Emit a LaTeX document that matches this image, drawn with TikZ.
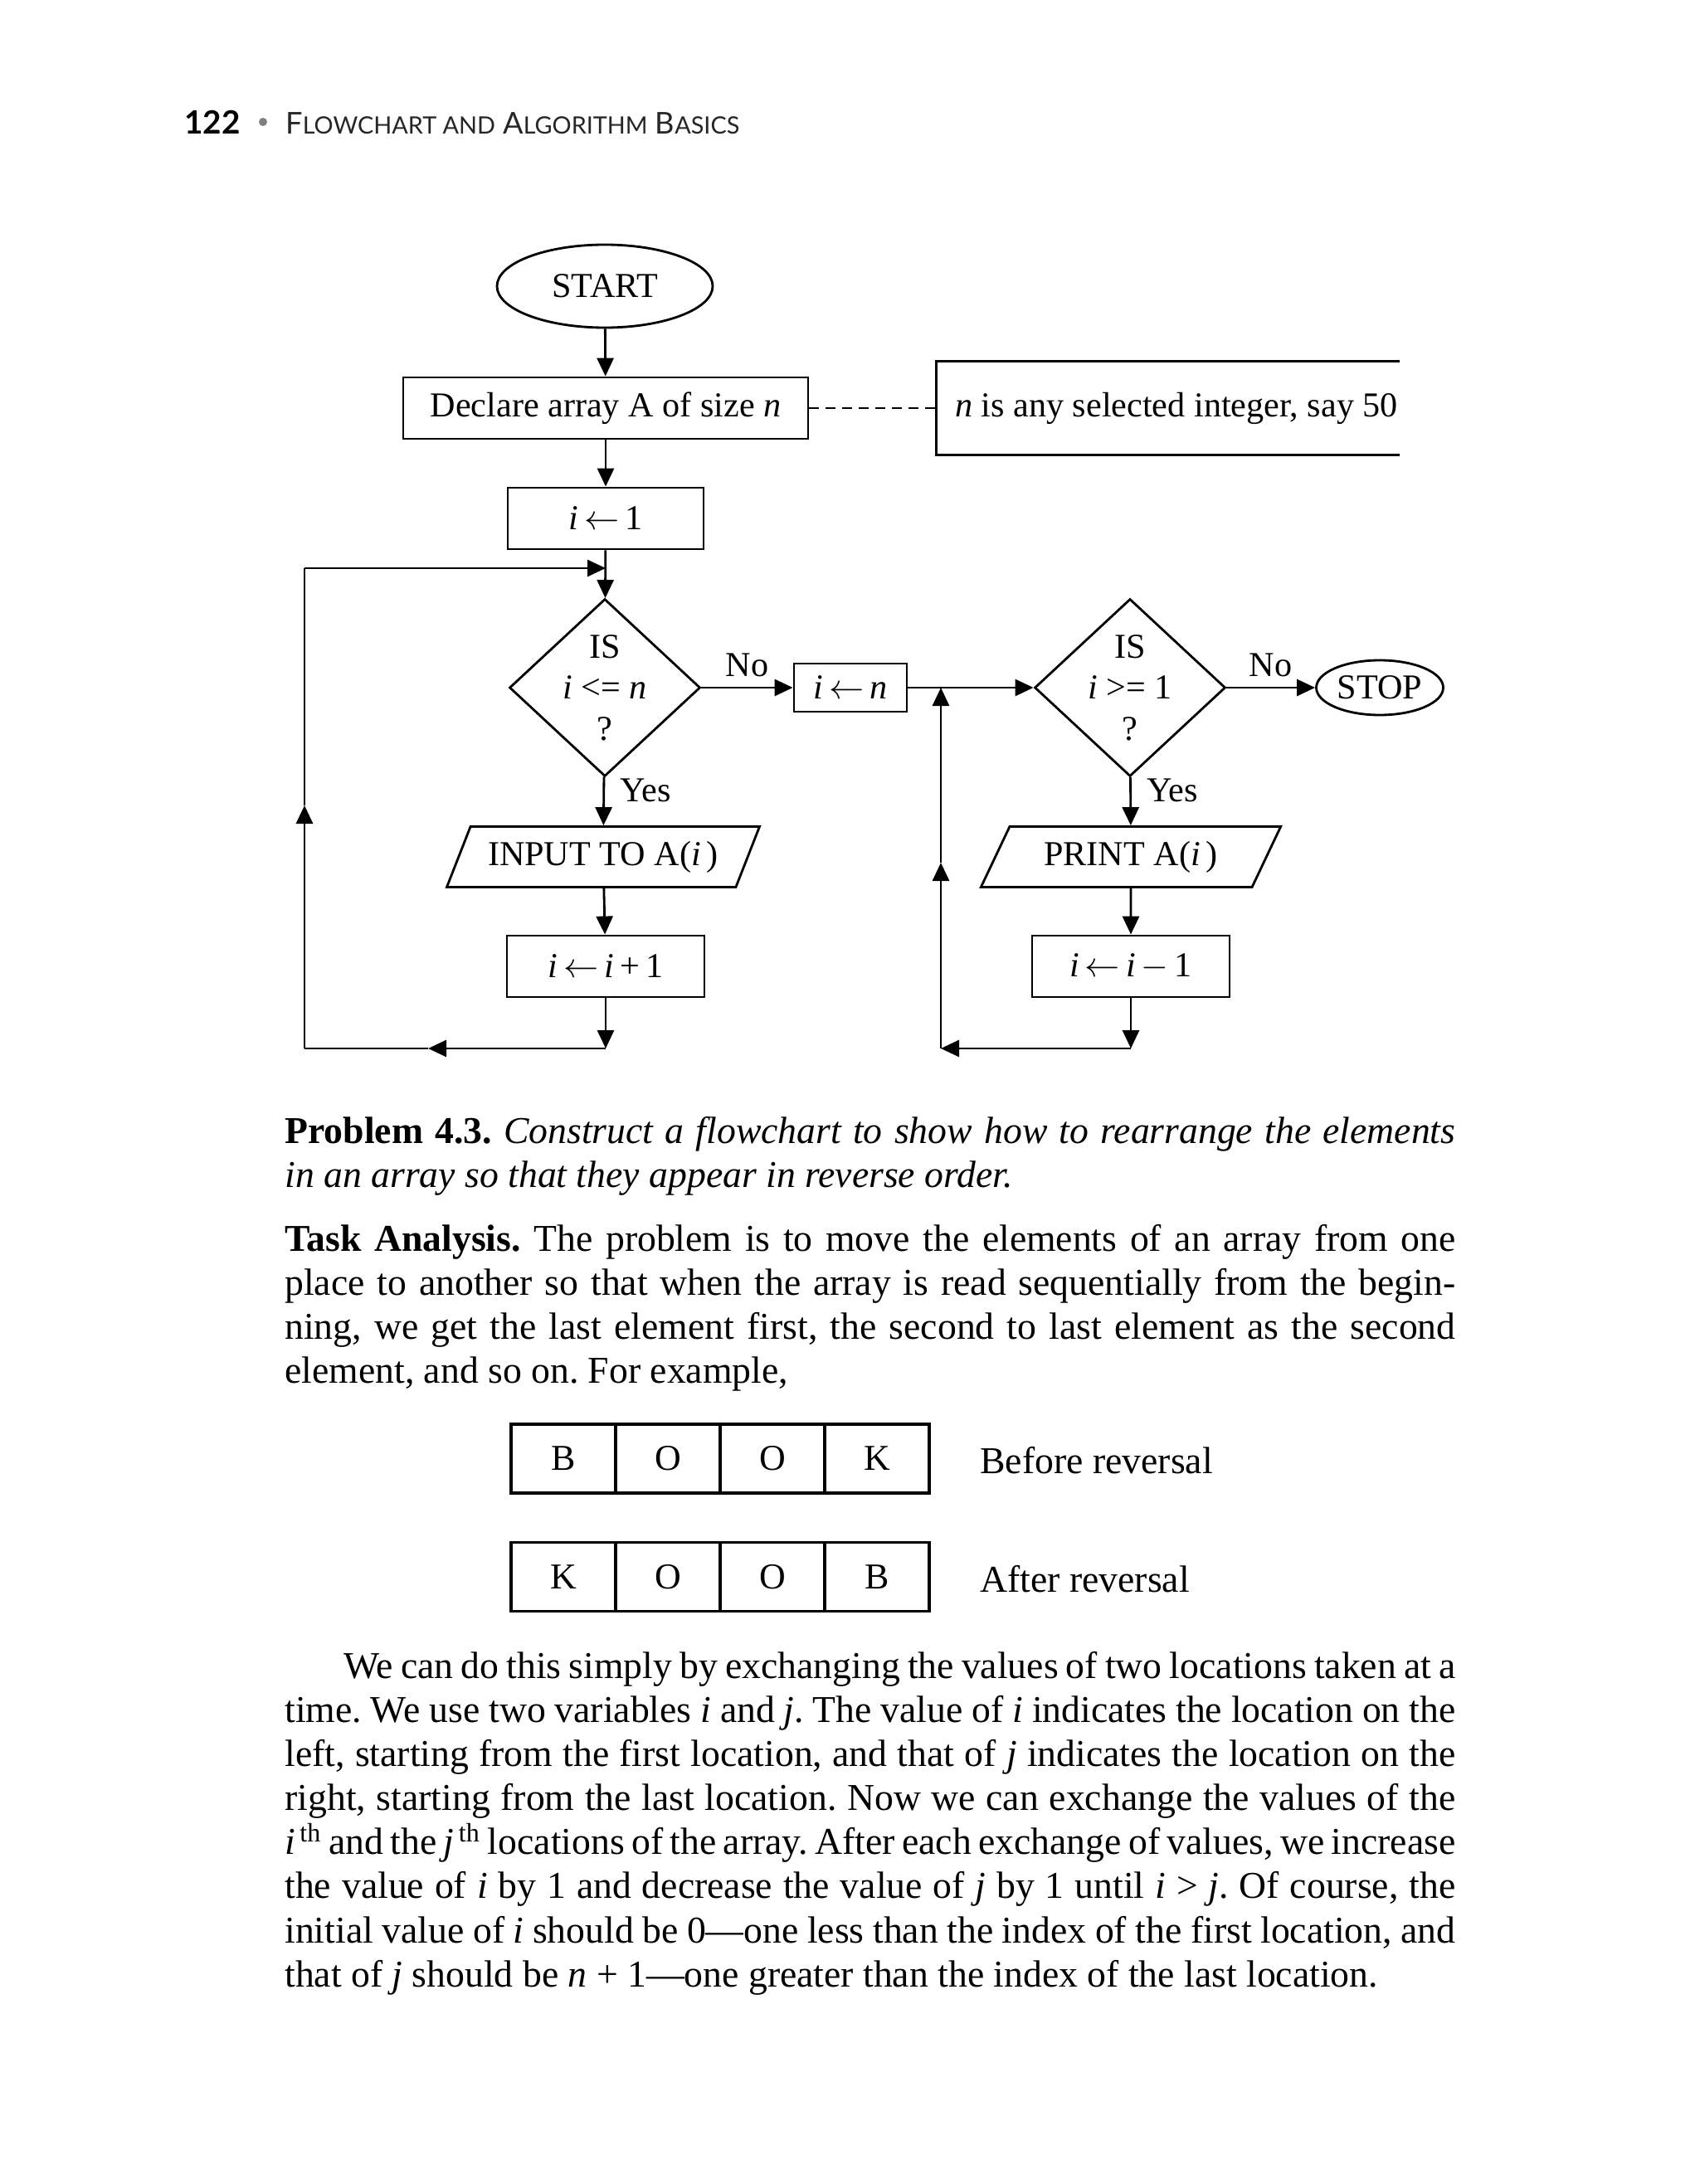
\documentclass[tikz,border=0pt]{standalone}
\usepackage{fontspec}
\setmainfont{Liberation Serif}
\setsansfont{Lato}
\usetikzlibrary{positioning,shapes.geometric,arrows.meta,calc}

\newcommand{\flowfont}{\fontsize{12}{14}\selectfont}
\newcommand{\bodyfont}{\fontsize{13}{15.1}\selectfont\frenchspacing\hyphenpenalty=10000 }

\tikzset{
  flow/.style={-{Triangle[length=2.2mm,width=2mm]}},
  procbox/.style={draw, rectangle, minimum width=2.36cm, minimum height=0.74cm, inner sep=0pt, font=\flowfont},
  termnode/.style={draw, ellipse, inner sep=0pt, font=\flowfont},
  decide/.style={draw, diamond, minimum width=2.30cm, minimum height=2.14cm, inner sep=0pt},
  decidetext/.style={align=center, inner sep=0pt, font=\flowfont, text depth=0pt},
  iobox/.style={draw, trapezium, trapezium left angle=57, trapezium right angle=123, trapezium stretches=true, minimum height=0.73cm, inner sep=0pt, font=\flowfont},
  cell/.style={draw, line width=1.1pt, minimum width=1.26cm, minimum height=0.83cm, inner sep=0pt, font=\fontsize{12.5}{14}\selectfont},
  para/.style={anchor=north west, inner sep=0pt, text width=14.11cm, align=justify, font=\bodyfont}
}

\begin{document}
\begin{tikzpicture}[line width=0.8pt]
\useasboundingbox (0,0) rectangle (20.48,-26.33);

% running head
\node[anchor=base west, inner sep=0pt, font=\sffamily\bfseries\fontsize{11}{13}\selectfont] (pagenum) at (2.21,-1.62) {122};
\node[circle, fill=gray, inner sep=0pt, minimum size=0.1cm] (headdot) at (3.17,-1.47) {};
\node[anchor=base west, inner sep=0pt, font=\sffamily\fontsize{10.3}{12}\selectfont, text=black!85] (runhead) at (3.43,-1.62)
  {F{\fontsize{8.2}{9}\selectfont LOWCHART AND} A{\fontsize{8.2}{9}\selectfont LGORITHM} B{\fontsize{8.2}{9}\selectfont ASICS}};

% first loop
\node[termnode, minimum width=2.6cm, minimum height=1.0cm] (start) at (7.29,-3.45) {START};
\node[procbox, minimum width=4.88cm] (declare) at (7.30,-4.92) {Declare array A of size \textit{n}};
\node[inner sep=0pt, minimum width=5.56cm, minimum height=1.10cm, font=\flowfont] (note) at (14.08,-4.92) {\hspace*{0.2cm}\textit{n} is any selected integer, say 50};
\draw[line width=1pt] (note.north east) -- (note.north west) -- (note.south west) -- (note.south east);
\node[procbox] (init) at (7.30,-6.25) {\textit{i}\,$\leftarrow$\,1};
\coordinate (topjoin) at (7.30,-6.85);
\node[decide] (test1) at (7.29,-8.29) {};
\node[decidetext] (test1txt) at (test1) {IS\\ \textit{i} \textless= \textit{n}\\ ?};
\node[iobox, minimum width=3.78cm] (input) at (7.27,-10.33) {INPUT TO A(\textit{i}\,)};
\node[procbox, minimum width=2.38cm] (incr) at (7.30,-11.65) {\textit{i}\,$\leftarrow$\,\textit{i}\,+\,1};
\coordinate (botL) at (7.30,-12.64);
\coordinate (midL1) at (5.16,-12.64);
\coordinate (cornerBL) at (3.67,-12.64);
\coordinate (midL2) at (3.67,-9.71);
\coordinate (cornerTL) at (3.67,-6.85);

% second loop
\node[procbox, minimum width=1.36cm, minimum height=0.58cm] (setn) at (10.25,-8.29) {\textit{i}\,$\leftarrow$\,\textit{n}};
\node[decide] (test2) at (13.62,-8.29) {};
\node[decidetext] (test2txt) at (test2) {IS\\ \textit{i} \textgreater= 1\\ ?};
\node[termnode, minimum width=1.53cm, minimum height=0.66cm] (stop) at (16.63,-8.29) {STOP};
\node[iobox, minimum width=3.63cm] (print) at (13.63,-10.33) {PRINT A(\textit{i}\,)};
\node[procbox, minimum width=2.38cm] (decr) at (13.63,-11.65) {\textit{i}\,$\leftarrow$\,\textit{i}\,$-$\,1};
\coordinate (botR) at (13.63,-12.64);
\coordinate (cornerBR) at (11.34,-12.64);
\coordinate (midR) at (11.34,-10.40);
\coordinate (joinR) at (11.34,-8.29);

% connectors
\draw[flow] (start) -- (declare);
\draw[dash pattern=on 1.2mm off 0.8mm] (declare) -- (note.west);
\draw[flow] (declare) -- (init);
\draw[flow] (init) -- (test1);
\draw[flow] (test1) -- node[above, font=\flowfont]{No} (setn);
\draw[flow] (test1) -- node[pos=0.28, anchor=west, inner sep=0.18cm, font=\flowfont]{Yes} (input);
\draw[flow] (input) -- (incr);
\draw[flow] (incr) -- (botL);
\draw[flow] (botL) -- (midL1);
\draw (midL1) -- (cornerBL);
\draw[flow] (cornerBL) -- (midL2);
\draw (midL2) -- (cornerTL);
\draw[flow] (cornerTL) -- (topjoin);

\draw[flow] (setn) -- (test2);
\draw[flow] (test2) -- node[above, font=\flowfont]{No} (stop);
\draw[flow] (test2) -- node[pos=0.28, anchor=west, inner sep=0.18cm, font=\flowfont]{Yes} (print);
\draw[flow] (print) -- (decr);
\draw[flow] (decr) -- (botR);
\draw[flow] (botR) -- (cornerBR);
\draw[flow] (cornerBR) -- (midR);
\draw[flow] (midR) -- (joinR);

% text
\node[para] (problem) at (3.42,-13.45)
  {\textbf{Problem 4.3.} \textit{Construct a flowchart to show how to rearrange the elements\linebreak in an array so that they appear in reverse order.}};
\node[para] (analysis) at (3.42,-14.75)
  {\textbf{Task Analysis.} The problem is to move the elements of an array from one\linebreak
   place to another so that when the array is read sequentially from the begin-\linebreak
   ning, we get the last element first, the second to last element as the second\linebreak
   element, and so on. For example,};

% BOOK cells
\foreach \ch [count=\k] in {B,O,O,K}
  \node[cell] (before\k) at ({6.79+1.26*(\k-1)},-17.585) {\ch};
\foreach \ch [count=\k] in {K,O,O,B}
  \node[cell] (after\k) at ({6.79+1.26*(\k-1)},-19.01) {\ch};
\node[anchor=west, inner sep=0pt, font=\bodyfont] (beforelbl) at (11.80,-17.61) {Before reversal};
\node[anchor=west, inner sep=0pt, font=\bodyfont] (afterlbl) at (11.80,-19.04) {After reversal};

\node[para] (method) at (3.42,-19.90)
  {\hspace*{0.71cm}We can do this simply by exchanging the values of two locations taken at a\linebreak
   time. We use two variables \textit{i} and \textit{j}. The value of \textit{i} indicates the location on the\linebreak
   left, starting from the first location, and that of \textit{j} indicates the location on the\linebreak
   right, starting from the last location. Now we can exchange the values of the\linebreak
   {\spaceskip=0.22em plus 0.1em minus 0.06em \textit{i}\textsuperscript{\,th} and the \textit{j}\textsuperscript{\,th} locations of the array. After each exchange of values, we increase}\linebreak
   the value of \textit{i} by 1 and decrease the value of \textit{j} by 1 until \textit{i} \textgreater{} \textit{j}. Of course, the\linebreak
   initial value of \textit{i} should be 0---one less than the index of the first location, and\linebreak
   that of \textit{j} should be \textit{n} + 1---one greater than the index of the last location.};
\end{tikzpicture}
\end{document}
